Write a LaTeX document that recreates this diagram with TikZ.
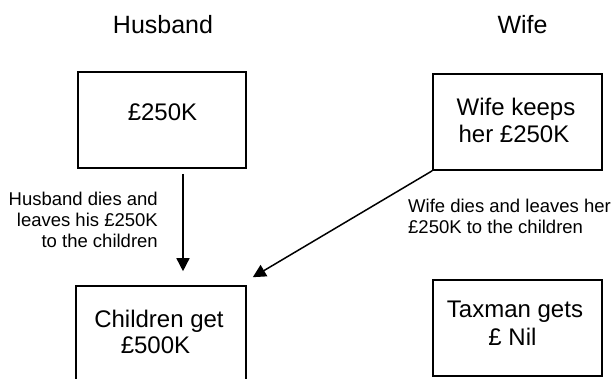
\documentclass[tikz,border=0pt]{standalone}
\usepackage{fontspec}
\setmainfont{Liberation Sans}
\usetikzlibrary{arrows.meta,calc}
\begin{document}
\begin{tikzpicture}[x=1pt,y=-1pt,
  boxnode/.style={draw,line width=1.6pt,inner sep=0pt,minimum width=#1,minimum height=96pt},
  boxtext/.style={anchor=base,inner sep=0pt,font=\fontsize{24}{27.6}\selectfont},
  titletext/.style={anchor=base,inner sep=0pt,font=\fontsize{25}{29}\selectfont},
  smalltext/.style={inner sep=0pt,font=\fontsize{18.5}{21}\selectfont},
  flow/.style={line width=1.5pt,-{Triangle[length=13pt,width=13pt]}}]
\clip (0,0) rectangle (611,378);
\fill[white] (0,0) rectangle (611,378);
% titles
\node[titletext] (tH) at (163,33) {Husband};
\node[titletext] (tW) at (522.5,33) {Wife};
% boxes
\node[boxnode=168pt] (b1) at (162,120) {};
\node[boxnode=169pt] (b2) at (517.5,122) {};
\node[boxnode=170pt] (b3) at (161,334) {};
\node[boxnode=169pt] (b4) at (517.5,328) {};
% box texts
\node[boxtext] (b1a) at (162.5,120) {£250K};
\node[boxtext] (b2a) at (516,115) {Wife keeps};
\node[boxtext] (b2b) at (514,142) {her £250K};
\node[boxtext] (b3a) at (159,327) {Children get};
\node[boxtext] (b3b) at (155.5,353) {£500K};
\node[boxtext] (b4a) at (515,317) {Taxman gets};
\node[boxtext] (b4b) at (512.5,345) {£ Nil};
% labels
\node[smalltext,anchor=base east] (l1a) at (158,205) {Husband dies and};
\node[smalltext,anchor=base east] (l1b) at (158,226) {leaves his £250K};
\node[smalltext,anchor=base east] (l1c) at (158,247) {to the children};
\node[smalltext,anchor=base west] (l2a) at (408,212) {Wife dies and leaves her};
\node[smalltext,anchor=base west] (l2b) at (408,233) {£250K to the children};
% connectors
\coordinate (a1s) at ($(b1.south)+(21,5)$);
\coordinate (a1e) at ($(b3.north)+(22,-14)$);
\coordinate (a2e) at ($(b3.north east)+(6,-8)$);
\draw[flow] (a1s) -- (a1e);
\draw[flow] (b2.south west) -- (a2e);
\end{tikzpicture}
\end{document}
